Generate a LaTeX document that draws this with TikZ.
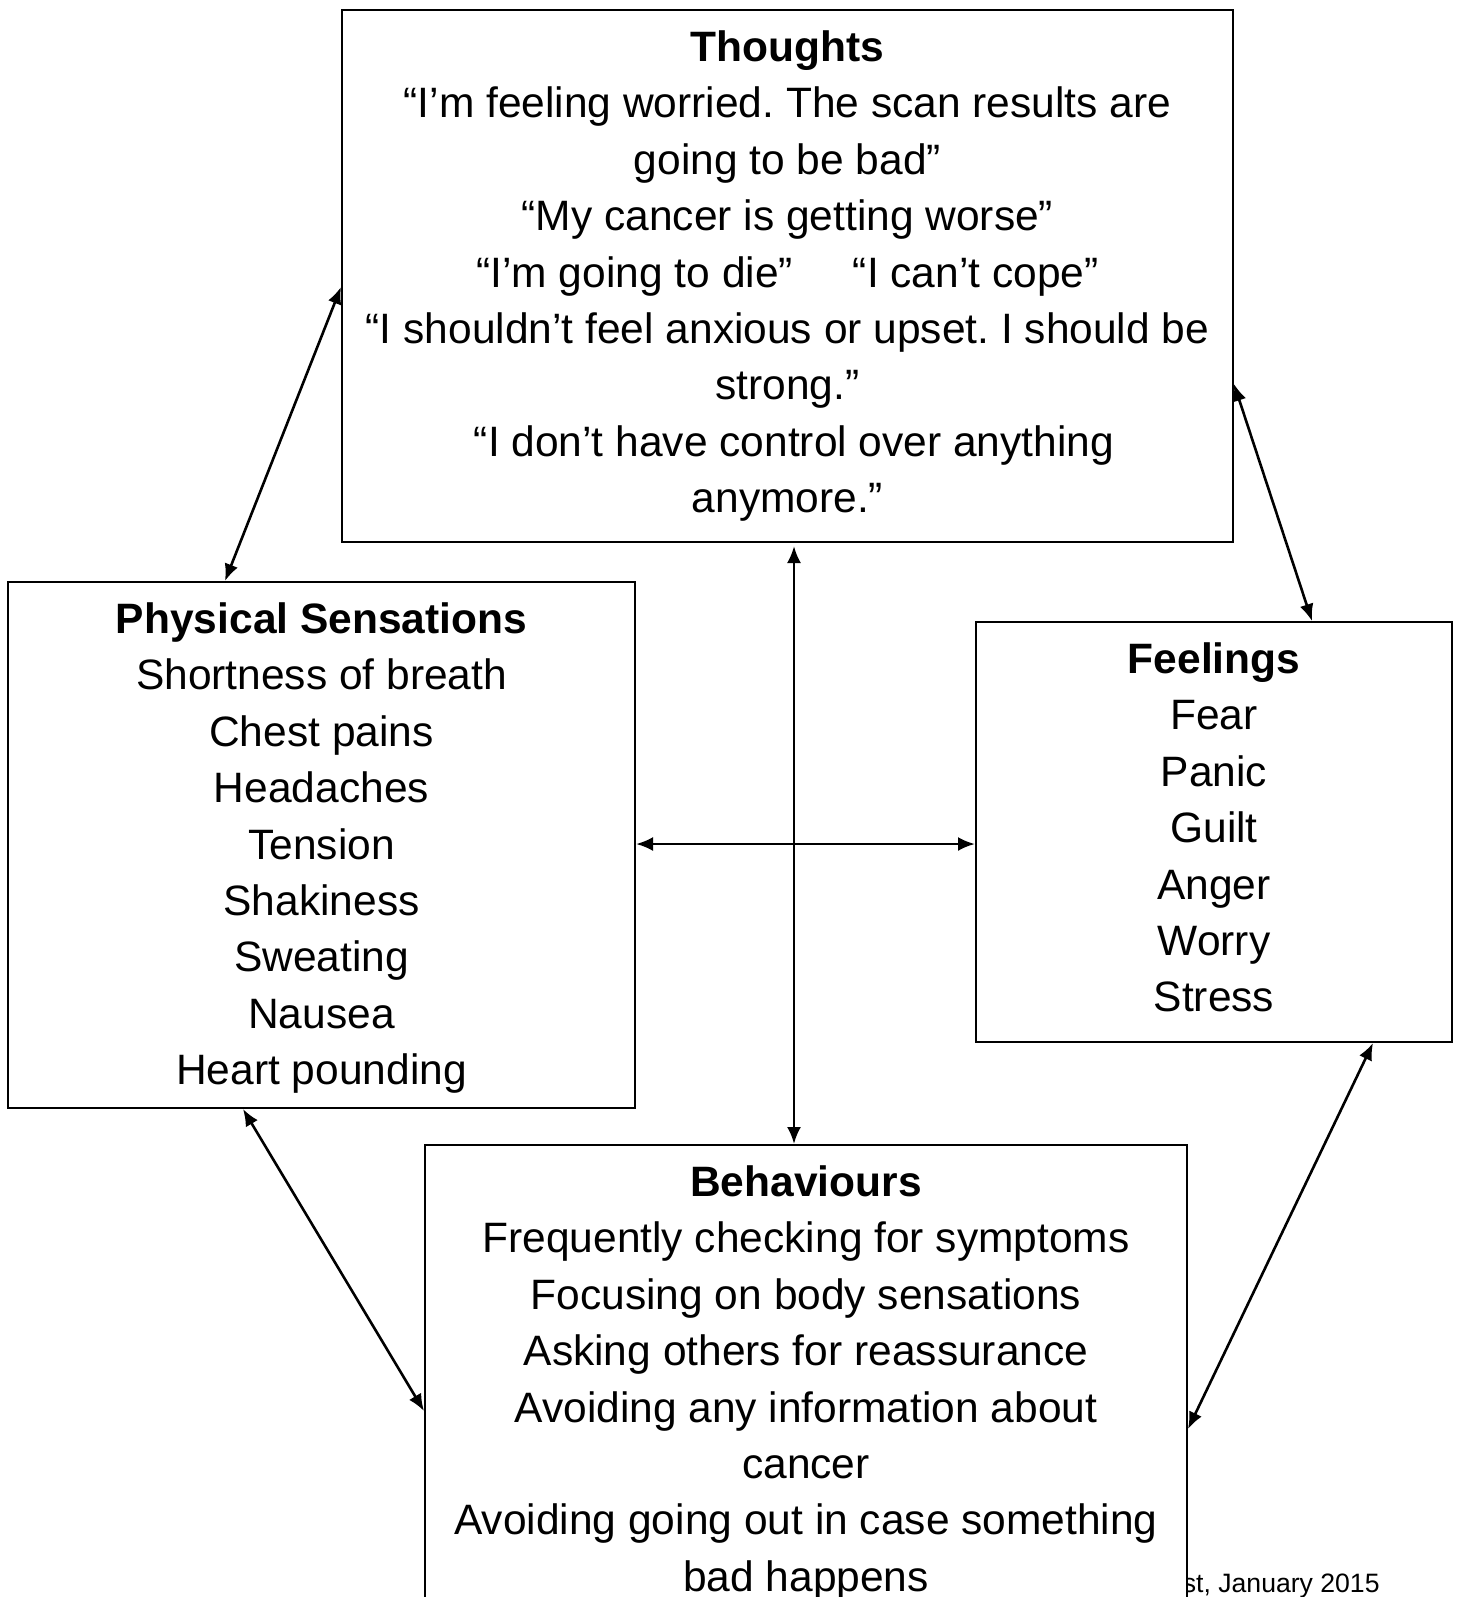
\documentclass[tikz,border=0pt]{standalone}
\usepackage{fontspec}
\setmainfont{Liberation Sans}
\usetikzlibrary{calc,arrows.meta}
\tikzset{
  boxnode/.style={draw=black, line width=1pt, fill=white, rectangle, inner sep=0pt},
  boxtext/.style={anchor=north, align=center, inner sep=0pt,
    font=\fontsize{21.25}{28.2}\selectfont\frenchspacing},
  link/.style={line width=1.3pt, {Latex[length=8.5pt,width=7pt]}-{Latex[length=8.5pt,width=7pt]}},
  foot/.style={anchor=base east, inner sep=0pt, font=\fontsize{13.3}{16}\selectfont}
}
\newcommand{\firstline}{\rule{0pt}{17pt}}
\begin{document}
\begin{tikzpicture}[x=0.5pt,y=-0.5pt]
\useasboundingbox (0,0) rectangle (1459,1597);
\clip (0,0) rectangle (1459,1597);
\fill[white] (0,0) rectangle (1459,1597);

% footer (partly hidden behind the Behaviours box)
\node[foot] (footer) at (1380,1592) {st, January 2015};

% boxes
\node[boxnode, minimum width=445.5pt, minimum height=266pt] (thoughts) at (787.5,276) {};
\node[boxnode, minimum width=313.5pt, minimum height=263pt] (physical) at (321.5,845) {};
\node[boxnode, minimum width=238pt, minimum height=210pt] (feelings) at (1214,832) {};
\node[boxnode, minimum width=381pt, minimum height=247.5pt] (behaviours) at (806,1392.5) {};

% texts
\node[boxtext] (thoughtsT) at (787.5,27) {\firstline\textbf{Thoughts}\\
“I’m feeling worried. The scan results are\\
going to be bad”\\
“My cancer is getting worse”\\
“I’m going to die”\hspace{30pt}“I can’t cope”\\
“I shouldn’t feel anxious or upset. I should be\\
strong.”\\
\hspace*{6.5pt}“I don’t have control over anything\\
anymore.”};

\node[boxtext] (physicalT) at (321.5,599) {\firstline\textbf{Physical Sensations}\\
Shortness of breath\\
Chest pains\\
Headaches\\
Tension\\
Shakiness\\
Sweating\\
Nausea\\
Heart pounding};

\node[boxtext] (feelingsT) at (1214,639) {\firstline\textbf{Feelings}\\
Fear\\
Panic\\
Guilt\\
Anger\\
Worry\\
Stress};

\node[boxtext] (behavioursT) at (806,1162) {\firstline\textbf{Behaviours}\\
Frequently checking for symptoms\\
Focusing on body sensations\\
Asking others for reassurance\\
Avoiding any information about\\
cancer\\
Avoiding going out in case something\\
bad happens};

% connector end points on the box borders
\coordinate (tW) at ($(thoughts.north west)+(0,278)$);
\coordinate (tE) at ($(thoughts.north east)+(0,375)$);
\coordinate (tS) at ($(thoughts.south west)+(453,3)$);
\coordinate (pN) at ($(physical.north west)+(218,0)$);
\coordinate (pE) at ($(physical.north east)+(0,263)$);
\coordinate (pS) at ($(physical.south west)+(236,0)$);
\coordinate (fN) at ($(feelings.north west)+(337,0)$);
\coordinate (fW) at ($(feelings.north west)+(0,223)$);
\coordinate (fS) at ($(feelings.south west)+(398,0)$);
\coordinate (bN) at ($(behaviours.north west)+(370,0)$);
\coordinate (bW) at ($(behaviours.north west)+(0,267)$);
\coordinate (bE) at ($(behaviours.north east)+(0,285)$);

\draw[link] (tW) -- (pN);
\draw[link] (tE) -- (fN);
\draw[link] (tS) -- (bN);
\draw[link] (pE) -- (fW);
\draw[link] (pS) -- (bW);
\draw[link] (fS) -- (bE);
\end{tikzpicture}
\end{document}
